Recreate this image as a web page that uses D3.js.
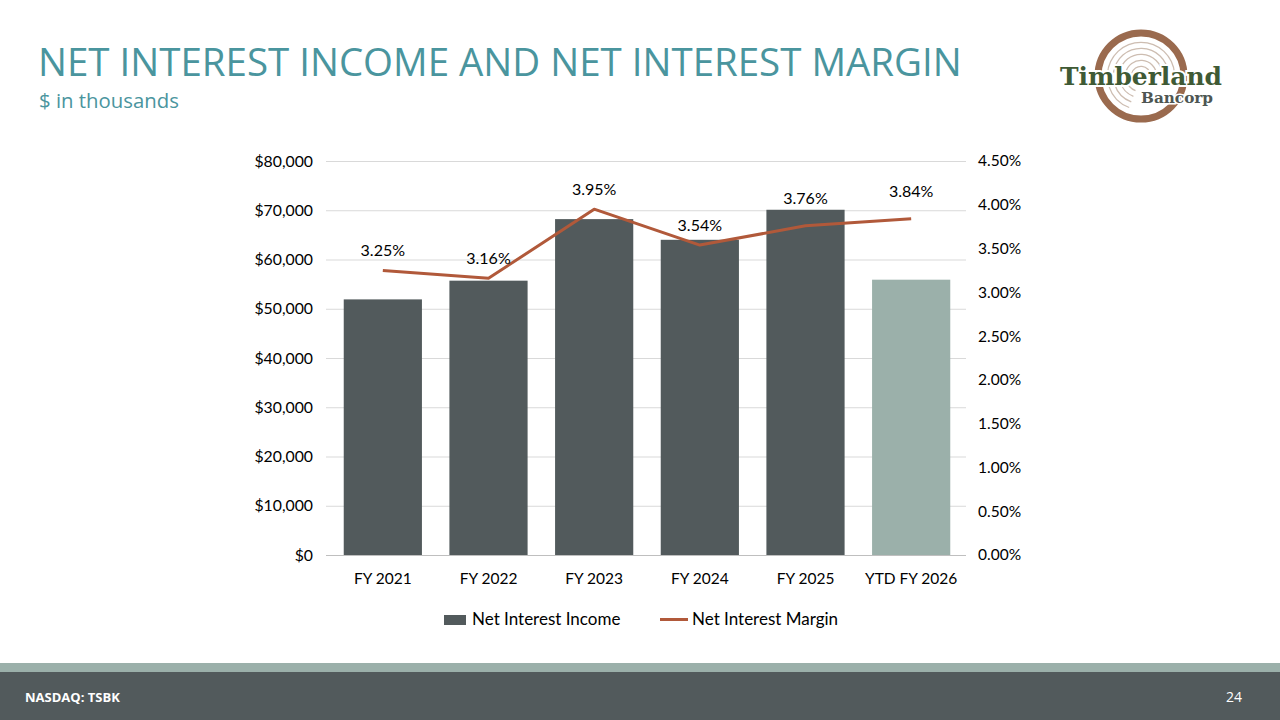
<!DOCTYPE html>
<html>
<head>
<meta charset="utf-8">
<script src="https://cdn.jsdelivr.net/npm/d3@7"></script>
<style>
  html, body { margin: 0; padding: 0; background: #fff; }
  svg { display: block; }
</style>
</head>
<body>
<div id="slide"></div>
<script>
// chart values
const categories = ["FY 2021", "FY 2022", "FY 2023", "FY 2024", "FY 2025", "YTD FY 2026"]
const netInterestIncome = [51900, 55700, 68200, 64000, 70100, 55900]
const netInterestMargin = [3.25, 3.16, 3.95, 3.54, 3.76, 3.84]
const incomeTicks = [0, 10000, 20000, 30000, 40000, 50000, 60000, 70000, 80000]
const marginTicks = [0, 0.5, 1, 1.5, 2, 2.5, 3, 3.5, 4, 4.5]
const seriesNames = ["Net Interest Income", "Net Interest Margin"]

var width = 1280
var height = 720
var font = "Lato, 'Open Sans', sans-serif"
var teal = "#4A959E"
var barDark = "#525A5C"
var barLight = "#9BB0AA"
var lineColor = "#B1593A"

var plot = { left: 330, right: 964, top: 161, bottom: 555 }

var svg = d3.select("#slide").append("svg")
  .attr("width", width)
  .attr("height", height)

// title
var title = svg.append("text")
  .attr("x", 38)
  .attr("y", 76)
  .attr("fill", teal)
  .style("font-family", "'Open Sans', sans-serif")
  .style("font-size", "40px")
  .text("NET INTEREST INCOME AND NET INTEREST MARGIN")
// fit to the reference width
var tw = title.node().getComputedTextLength()
title.style("font-size", (40 * 924 / tw) + "px")

var sub = svg.append("text")
  .attr("x", 39)
  .attr("y", 108)
  .attr("fill", teal)
  .style("font-family", "'Open Sans', sans-serif")
  .style("font-size", "19px")
  .text("$ in thousands")
var sw = sub.node().getComputedTextLength()
sub.style("font-size", (19 * 140 / sw) + "px")

// scales
var xScale = d3.scaleBand()
  .domain(categories)
  .range([plot.left, plot.right])
  .paddingInner(0.26)
  .paddingOuter(0.13)

var yLeft = d3.scaleLinear()
  .domain([0, 80000])
  .range([plot.bottom, plot.top])

var yRight = d3.scaleLinear()
  .domain([0, 4.5])
  .range([plot.bottom, plot.top])

// gridlines
svg.append("g")
  .selectAll("line")
  .data(incomeTicks)
  .enter().append("line")
  .attr("x1", plot.left - 4)
  .attr("x2", plot.right + 2)
  .attr("y1", d => yLeft(d) + 0.5)
  .attr("y2", d => yLeft(d) + 0.5)
  .attr("stroke", d => d === 0 ? "#BFBFBF" : "#D9D9D9")
  .attr("stroke-width", 1)

// left axis
var leftAxis = svg.append("g")
  .attr("transform", "translate(" + (plot.left - 17) + ",0)")
  .call(d3.axisLeft(yLeft)
    .tickValues(incomeTicks)
    .tickSize(0)
    .tickPadding(0)
    .tickFormat(d => "$" + d3.format(",")(d)))
leftAxis.select(".domain").remove()
leftAxis.selectAll("text")
  .style("font-family", font)
  .style("font-size", "15.8px")
  .attr("fill", "#000")

// right axis
var rightAxis = svg.append("g")
  .attr("transform", "translate(" + (plot.right + 14) + ",0)")
  .call(d3.axisRight(yRight)
    .tickValues(marginTicks)
    .tickSize(0)
    .tickPadding(0)
    .tickFormat(d => d3.format(".2f")(d) + "%"))
rightAxis.select(".domain").remove()
rightAxis.selectAll("text")
  .style("font-family", font)
  .style("font-size", "15.5px")
  .attr("fill", "#000")

// category axis
var xAxisG = svg.append("g")
  .attr("transform", "translate(0," + plot.bottom + ")")
  .call(d3.axisBottom(xScale).tickSize(0).tickPadding(18))
xAxisG.select(".domain").remove()
xAxisG.selectAll("text")
  .style("font-family", font)
  .style("font-size", "15.5px")
  .attr("fill", "#000")

// bars
svg.append("g")
  .selectAll("rect")
  .data(netInterestIncome)
  .enter().append("rect")
  .attr("x", (d, i) => xScale(categories[i]))
  .attr("y", d => yLeft(d))
  .attr("width", xScale.bandwidth())
  .attr("height", d => yLeft(0) - yLeft(d))
  .attr("fill", (d, i) => categories[i].indexOf("YTD") === 0 ? barLight : barDark)

// margin line
var line = d3.line()
  .x((d, i) => xScale(categories[i]) + xScale.bandwidth() / 2)
  .y(d => yRight(d))

svg.append("path")
  .datum(netInterestMargin)
  .attr("d", line)
  .attr("fill", "none")
  .attr("stroke", lineColor)
  .attr("stroke-width", 3)
  .attr("stroke-linejoin", "round")

// labels sit above the point, and clear of the bar top when it is close
svg.append("g")
  .selectAll("text")
  .data(netInterestMargin)
  .enter().append("text")
  .attr("x", (d, i) => xScale(categories[i]) + xScale.bandwidth() / 2)
  .attr("y", (d, i) => {
    var base = yRight(d) - 14
    var barTop = yLeft(netInterestIncome[i])
    if (categories[i].indexOf("YTD") === 0) return base - 8
    return Math.min(base, barTop - 6)
  })
  .attr("text-anchor", "middle")
  .style("font-family", font)
  .style("font-size", "16px")
  .attr("fill", "#000")
  .text(d => d3.format(".2f")(d) + "%")

// legend
var legend = svg.append("g")
legend.append("rect")
  .attr("x", 444)
  .attr("y", 615)
  .attr("width", 22)
  .attr("height", 10)
  .attr("fill", barDark)
legend.append("text")
  .attr("x", 472)
  .attr("y", 625)
  .style("font-family", font)
  .style("font-size", "17px")
  .text(seriesNames[0])
legend.append("line")
  .attr("x1", 660)
  .attr("x2", 688)
  .attr("y1", 619.5)
  .attr("y2", 619.5)
  .attr("stroke", lineColor)
  .attr("stroke-width", 3)
legend.append("text")
  .attr("x", 692)
  .attr("y", 625)
  .style("font-family", font)
  .style("font-size", "17px")
  .text(seriesNames[1])

// footer
svg.append("rect")
  .attr("x", 0).attr("y", 663)
  .attr("width", width).attr("height", 9)
  .attr("fill", barLight)
svg.append("rect")
  .attr("x", 0).attr("y", 672)
  .attr("width", width).attr("height", 48)
  .attr("fill", barDark)
svg.append("text")
  .attr("x", 25).attr("y", 702)
  .attr("fill", "#fff")
  .style("font-family", "'Open Sans', sans-serif")
  .style("font-weight", "bold")
  .style("font-size", "13px")
  .text("NASDAQ: TSBK")
svg.append("text")
  .attr("x", 1242).attr("y", 702)
  .attr("text-anchor", "end")
  .attr("fill", "#fff")
  .style("font-family", "'Open Sans', sans-serif")
  .style("font-size", "14px")
  .text("24")

// logo
var logo = svg.append("g").attr("transform", "translate(1141,76)")
logo.append("circle")
  .attr("r", 43)
  .attr("fill", "none")
  .attr("stroke", "#9A6A4E")
  .attr("stroke-width", 7)
var rings = [9, 15, 21, 27, 33]
rings.forEach(function(r, i) {
  logo.append("path")
    .attr("d", d3.arc()({ innerRadius: r, outerRadius: r + 1.3, startAngle: -1.3 - i * 0.05, endAngle: 1.5 }))
    .attr("fill", "#CDBDB1")
  logo.append("path")
    .attr("d", d3.arc()({ innerRadius: r, outerRadius: r + 1.3, startAngle: 3.5, endAngle: 4.4 }))
    .attr("fill", "#CDBDB1")
})
logo.append("text")
  .attr("x", 0)
  .attr("y", 9)
  .attr("text-anchor", "middle")
  .attr("fill", "#3F5A35")
  .attr("stroke", "#fff")
  .attr("stroke-width", 4)
  .attr("paint-order", "stroke")
  .style("font-family", "'DejaVu Serif', serif")
  .style("font-weight", "bold")
  .style("font-size", "24px")
  .attr("textLength", 162)
  .attr("lengthAdjust", "spacingAndGlyphs")
  .text("Timberland")
logo.append("text")
  .attr("x", 36)
  .attr("y", 27)
  .attr("text-anchor", "middle")
  .attr("fill", "#4E5653")
  .attr("stroke", "#fff")
  .attr("stroke-width", 3)
  .attr("paint-order", "stroke")
  .style("font-family", "'DejaVu Serif', serif")
  .style("font-weight", "bold")
  .style("font-size", "14px")
  .attr("textLength", 72)
  .attr("lengthAdjust", "spacingAndGlyphs")
  .text("Bancorp")
</script>
</body>
</html>
